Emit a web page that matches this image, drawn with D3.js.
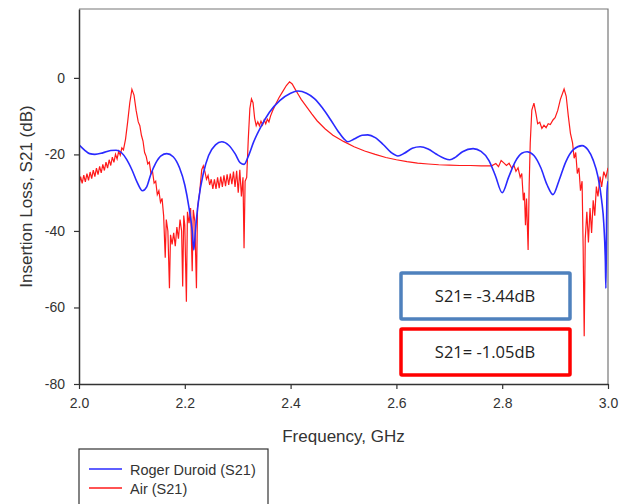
<!DOCTYPE html>
<html>
<head>
<meta charset="utf-8">
<script src="https://cdn.jsdelivr.net/npm/d3@7"></script>
<style>
  body { margin: 0; background: #fff; }
  svg { display: block; }
  .tick text { font-family: "Liberation Sans", Arial, sans-serif; font-size: 14px; fill: #333; }
  .title { font-family: "Liberation Sans", Arial, sans-serif; font-size: 17px; fill: #333; }
</style>
</head>
<body>
<div id="chart"></div>
<script>
(function () {

  // tick values
  const xTicks = [2.0, 2.2, 2.4, 2.6, 2.8, 3.0]
  const yTicks = [0, -20, -40, -60, -80]

  // Roger Duroid (S21): [GHz, dB]
  const rogerDuroid = [
    [2.000, -17.5], [2.010, -18.8], [2.020, -19.8], [2.030, -20.0], [2.045, -19.6],
    [2.060, -19.0], [2.070, -18.9], [2.080, -19.5], [2.090, -21.3], [2.100, -24.0],
    [2.110, -27.3], [2.120, -29.5], [2.128, -28.5], [2.135, -25.5], [2.145, -22.3],
    [2.155, -20.4], [2.166, -19.8], [2.178, -20.6], [2.190, -23.5], [2.200, -28.0],
    [2.208, -34.0], [2.214, -40.0], [2.217, -45.0], [2.220, -40.0], [2.226, -32.0],
    [2.235, -25.0], [2.245, -20.3], [2.258, -17.5], [2.270, -16.7], [2.283, -17.6],
    [2.295, -19.8], [2.305, -22.2], [2.312, -22.6], [2.320, -20.5], [2.330, -16.8],
    [2.345, -12.5], [2.360, -9.0], [2.380, -5.9], [2.400, -4.0], [2.414, -3.44],
    [2.430, -4.0], [2.445, -5.4], [2.460, -7.8], [2.475, -10.8], [2.490, -14.0],
    [2.500, -15.8], [2.508, -16.7], [2.520, -16.0], [2.535, -15.0], [2.546, -14.9],
    [2.560, -15.6], [2.575, -17.4], [2.590, -19.5], [2.603, -20.4], [2.615, -19.7],
    [2.630, -18.4], [2.645, -18.0], [2.660, -18.6], [2.675, -19.9], [2.690, -21.0],
    [2.701, -21.4], [2.712, -20.7], [2.725, -19.3], [2.745, -18.5], [2.760, -19.2],
    [2.775, -21.6], [2.787, -25.5], [2.800, -30.0], [2.812, -26.0], [2.825, -21.8],
    [2.837, -19.7], [2.847, -19.3], [2.860, -20.3], [2.873, -23.5], [2.885, -28.0],
    [2.896, -30.5], [2.907, -27.0], [2.920, -22.0], [2.935, -18.7], [2.951, -17.7],
    [2.962, -18.8], [2.972, -21.5], [2.981, -25.8], [2.988, -32.0], [2.992, -38.0],
    [2.995, -48.0], [2.996, -55.0], [2.997, -42.0], [2.998, -30.0], [3.000, -27.0]
  ]

  // Air (S21): [GHz, dB]
  const air = [
    [2.000, -28.0], [2.003, -25.8], [2.006, -27.6], [2.009, -25.4], [2.012, -27.2],
    [2.015, -25.0], [2.018, -26.8], [2.021, -24.6], [2.024, -26.3], [2.027, -24.1],
    [2.030, -25.8], [2.033, -23.6], [2.036, -25.3], [2.039, -23.1], [2.042, -24.8],
    [2.045, -22.6], [2.048, -24.2], [2.051, -22.0], [2.054, -23.6], [2.057, -21.4],
    [2.060, -22.9], [2.063, -20.7], [2.066, -22.1], [2.069, -20.0], [2.072, -21.2],
    [2.075, -19.2], [2.078, -20.2], [2.081, -18.3], [2.084, -18.8], [2.088, -16.0],
    [2.092, -11.5], [2.096, -6.5], [2.100, -3.0], [2.104, -4.5], [2.108, -8.5],
    [2.112, -11.5], [2.115, -12.5], [2.118, -15.0], [2.121, -16.5], [2.124, -19.5],
    [2.127, -20.5], [2.130, -22.5], [2.133, -22.0], [2.136, -25.0], [2.139, -24.5],
    [2.142, -27.5], [2.145, -27.0], [2.148, -30.5], [2.151, -29.5], [2.154, -32.5],
    [2.157, -31.5], [2.160, -36.0], [2.163, -47.0], [2.165, -37.0], [2.168, -40.0],
    [2.171, -55.0], [2.173, -41.0], [2.176, -43.5], [2.179, -40.5], [2.182, -44.0],
    [2.185, -39.0], [2.188, -42.0], [2.191, -37.0], [2.194, -40.0], [2.196, -54.5],
    [2.198, -36.0], [2.200, -38.5], [2.203, -58.5], [2.205, -35.0], [2.208, -38.0],
    [2.211, -34.0], [2.214, -50.5], [2.216, -34.5], [2.219, -37.5], [2.222, -55.0],
    [2.224, -34.0], [2.228, -30.0], [2.232, -24.0], [2.235, -23.0], [2.238, -24.5],
    [2.241, -26.5], [2.244, -25.5], [2.247, -28.0], [2.250, -26.5], [2.253, -29.0],
    [2.256, -26.5], [2.259, -29.0], [2.262, -26.0], [2.265, -28.8], [2.268, -25.8],
    [2.271, -28.5], [2.274, -25.5], [2.277, -28.3], [2.280, -25.2], [2.283, -28.0],
    [2.286, -25.0], [2.289, -27.8], [2.292, -24.5], [2.295, -28.5], [2.298, -24.3],
    [2.301, -30.0], [2.304, -24.0], [2.307, -31.0], [2.310, -26.0], [2.312, -44.5],
    [2.314, -27.0], [2.317, -26.0], [2.320, -16.0], [2.323, -8.0], [2.326, -5.5],
    [2.329, -6.5], [2.332, -10.5], [2.335, -12.5], [2.338, -11.5], [2.341, -12.5],
    [2.344, -11.3], [2.347, -12.3], [2.350, -11.0], [2.353, -12.0], [2.356, -10.8],
    [2.359, -11.5], [2.362, -10.0], [2.366, -8.6], [2.372, -6.8], [2.378, -5.2],
    [2.385, -3.6], [2.392, -2.0], [2.398, -1.05], [2.403, -1.6], [2.408, -2.8],
    [2.414, -4.2], [2.420, -5.6], [2.430, -7.5], [2.440, -9.4], [2.450, -11.2],
    [2.465, -13.3], [2.480, -15.0], [2.500, -16.6], [2.520, -18.0], [2.540, -19.1],
    [2.560, -20.0], [2.580, -20.8], [2.600, -21.4], [2.620, -21.9], [2.640, -22.3],
    [2.660, -22.5], [2.680, -22.7], [2.700, -22.8], [2.720, -22.9], [2.740, -22.9],
    [2.760, -23.0], [2.780, -23.0], [2.788, -22.4], [2.793, -23.2], [2.798, -21.6],
    [2.803, -22.2], [2.808, -22.9], [2.813, -22.3], [2.818, -23.6], [2.822, -22.8],
    [2.826, -24.4], [2.830, -23.5], [2.834, -26.0], [2.837, -25.0], [2.840, -32.0],
    [2.842, -30.0], [2.844, -38.5], [2.846, -31.5], [2.849, -45.0], [2.851, -28.0],
    [2.853, -17.0], [2.856, -8.4], [2.860, -6.6], [2.864, -9.5], [2.867, -12.0],
    [2.871, -11.6], [2.875, -13.2], [2.879, -12.4], [2.883, -13.0], [2.887, -12.0],
    [2.891, -12.2], [2.896, -11.0], [2.900, -10.4], [2.905, -8.5], [2.910, -5.6],
    [2.917, -2.9], [2.921, -4.8], [2.925, -10.0], [2.929, -14.5], [2.933, -17.0],
    [2.936, -21.0], [2.939, -19.5], [2.942, -25.0], [2.945, -23.5], [2.948, -29.5],
    [2.951, -27.0], [2.953, -44.0], [2.955, -67.5], [2.957, -42.0], [2.960, -35.0],
    [2.963, -43.0], [2.966, -34.0], [2.969, -40.5], [2.972, -32.0], [2.975, -36.0],
    [2.978, -28.4], [2.981, -31.0], [2.985, -25.8], [2.988, -28.5], [2.992, -24.5],
    [2.996, -26.0], [3.000, -23.5]
  ]

  const annotations = [
    { text: "S21= -3.44dB", color: "#4f81bd" },
    { text: "S21= -1.05dB", color: "#ff0000" }
  ]

  const legendItems = [
    { name: "Roger Duroid (S21)", color: "#2a2aff" },
    { name: "Air (S21)", color: "#ff1a1a" }
  ]

  const margin = { top: 9, right: 24, bottom: 120, left: 79 }
  const width = 632 - margin.left - margin.right
  const height = 504 - margin.top - margin.bottom

  const svg = d3.select("#chart").append("svg")
      .attr("width", 632)
      .attr("height", 504)
      .append("g")
      .attr("transform", "translate(" + margin.left + "," + margin.top + ")")

  const x = d3.scaleLinear().domain([2.0, 3.0]).range([0, width])
  const y = d3.scaleLinear().domain([-80, 18]).range([height, 0])

  // frame (top + right)
  svg.append("path")
    .attr("d", `M0,0H${width}V${height}`)
    .attr("fill", "none")
    .attr("stroke", "#777")
    .attr("stroke-width", 1.2)

  svg.append("clipPath").attr("id", "clip")
    .append("rect").attr("width", width).attr("height", height)

  const line = d3.line()
    .x(d => x(d[0]))
    .y(d => y(d[1]))

  svg.append("path")
    .datum(air)
    .attr("clip-path", "url(#clip)")
    .attr("d", line)
    .attr("fill", "none")
    .attr("stroke", legendItems[1].color)
    .attr("stroke-width", 1.2)

  svg.append("path")
    .datum(rogerDuroid)
    .attr("clip-path", "url(#clip)")
    .attr("d", line.curve(d3.curveMonotoneX))
    .attr("fill", "none")
    .attr("stroke", legendItems[0].color)
    .attr("stroke-width", 1.6)

  // axes
  svg.append("g")
    .attr("transform", "translate(0," + height + ")")
    .call(d3.axisBottom(x).tickValues(xTicks).tickFormat(d3.format(".1f")).tickSize(5).tickSizeOuter(0).tickPadding(9))
  svg.append("g")
    .call(d3.axisLeft(y).tickValues(yTicks).tickFormat(d => String(d)).tickSize(5).tickSizeOuter(0).tickPadding(9))

  svg.selectAll(".domain").attr("stroke", "#333").attr("stroke-width", 1.5)
  svg.selectAll(".tick line").attr("stroke", "#333").attr("stroke-width", 1.2)

  svg.append("text")
    .attr("class", "title")
    .attr("x", width / 2)
    .attr("y", height + 58)
    .attr("text-anchor", "middle")
    .text("Frequency, GHz")

  svg.append("text")
    .attr("class", "title")
    .attr("transform", `translate(${-47},${height / 2}) rotate(-90)`)
    .attr("text-anchor", "middle")
    .text("Insertion Loss, S21 (dB)")

  // value boxes
  const boxes = svg.selectAll(".box")
    .data(annotations)
    .join("g")
    .attr("class", "box")
    .attr("transform", (d, i) => `translate(${322},${264 + i * 56})`)

  boxes.append("rect")
    .attr("width", 169)
    .attr("height", 46)
    .attr("fill", "#fff")
    .attr("stroke", d => d.color)
    .attr("stroke-width", 3.5)
    .attr("rx", 1)

  boxes.append("text")
    .attr("x", 84)
    .attr("y", 29)
    .attr("text-anchor", "middle")
    .attr("font-family", "'Open Sans', sans-serif")
    .attr("font-size", 16.5)
    .attr("fill", "#222")
    .text(d => d.text)

  // legend
  const legend = svg.append("g")
    .attr("transform", `translate(0,${440})`)

  legend.append("rect")
    .attr("width", 189)
    .attr("height", 80)
    .attr("fill", "#fff")
    .attr("stroke", "#333")
    .attr("stroke-width", 1.2)

  const items = legend.selectAll(".item")
    .data(legendItems)
    .join("g")
    .attr("transform", (d, i) => `translate(10,${20 + i * 19})`)

  items.append("line")
    .attr("x2", 33)
    .attr("stroke", d => d.color)
    .attr("stroke-width", 1.3)

  items.append("text")
    .attr("x", 41)
    .attr("y", 5.5)
    .attr("font-family", "'Liberation Sans', Arial, sans-serif")
    .attr("font-size", 14.5)
    .attr("fill", "#333")
    .text(d => d.name)
})();
</script>
</body>
</html>
